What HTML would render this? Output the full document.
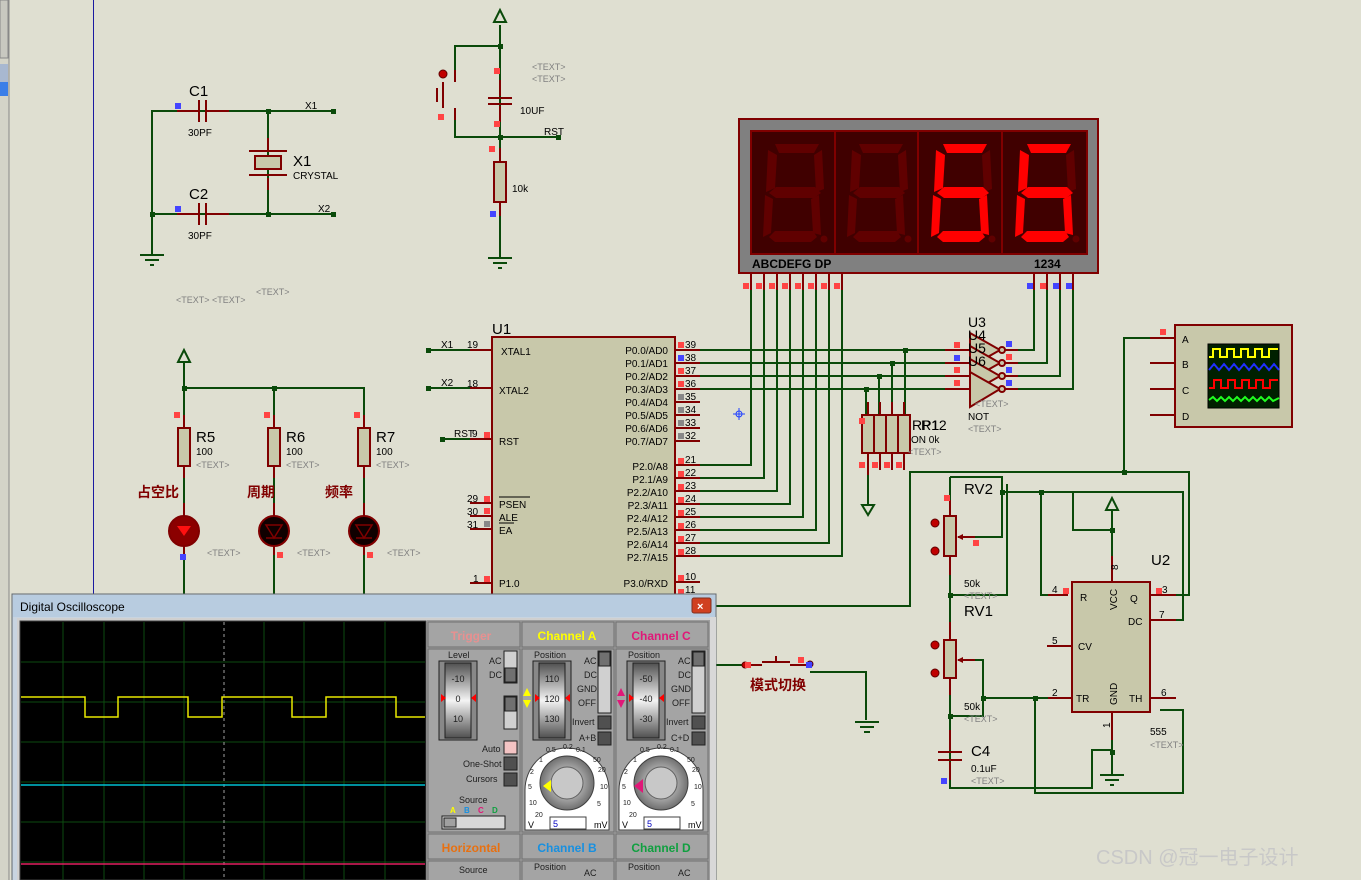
<!DOCTYPE html>
<html><head><meta charset="utf-8">
<style>
html,body{margin:0;padding:0;width:1361px;height:880px;overflow:hidden;background:#dfdfd1;}
svg text{font-family:"Liberation Sans","Noto Sans CJK SC",sans-serif;}
</style></head><body>
<svg width="1361" height="880" viewBox="0 0 1361 880" xmlns="http://www.w3.org/2000/svg">
<defs>
<g id="seg">
 <polygon points="22,14 68,14 63,22 27,22"/>
</g>
</defs>
<rect width="1361" height="880" fill="#dfdfd1"/>
<!-- left margin -->
<rect x="0" y="0" width="9" height="880" fill="#d4d4c8"/>
<line x1="9" y1="0" x2="9" y2="880" stroke="#888"/>
<rect x="0" y="0" width="8" height="58" fill="#c8c8c0" stroke="#888"/>
<rect x="0" y="64" width="8" height="30" fill="#a8b8d0"/>
<rect x="0" y="82" width="8" height="14" fill="#3a7ee8"/>
<line x1="93.5" y1="0" x2="93.5" y2="600" stroke="#1a1aa0" stroke-width="1"/>

<g fill="none" stroke="#0a4a0a" stroke-width="2">
 <!-- crystal circuit -->
 <polyline points="333,111 152,111 152,255"/>
 <line x1="152" y1="214" x2="333" y2="214"/>
 <line x1="268" y1="111" x2="268" y2="214"/>
 <!-- RST circuit -->
 <polyline points="500,25 500,46 455,46 455,70"/>
 <line x1="500" y1="46" x2="500" y2="258"/>
 <polyline points="455,120 455,137 560,137"/>
 <!-- LEDs -->
 <line x1="184" y1="362" x2="184" y2="600"/>
 <polyline points="184,388 364,388 364,600"/>
 <line x1="274" y1="388" x2="274" y2="600"/>
 <!-- U1 left -->
 <line x1="428" y1="350" x2="475" y2="350"/>
 <line x1="428" y1="388" x2="475" y2="388"/>
 <line x1="442" y1="439" x2="470" y2="439"/>
 <!-- display seg wires -->
 <polyline points="751,290 751,465 700,465"/>
 <polyline points="764,290 764,478 700,478"/>
 <polyline points="777,290 777,491 700,491"/>
 <polyline points="790,290 790,504 700,504"/>
 <polyline points="803,290 803,517 700,517"/>
 <polyline points="816,290 816,530 700,530"/>
 <polyline points="829,290 829,543 700,543"/>
 <polyline points="842,290 842,556 700,556"/>
 <!-- P0 lines -->
 <line x1="700" y1="350" x2="945" y2="350"/>
 <line x1="700" y1="363" x2="945" y2="363"/>
 <line x1="700" y1="376" x2="945" y2="376"/>
 <line x1="700" y1="389" x2="945" y2="389"/>
 <polyline points="905,350 905,415"/>
 <polyline points="892,363 892,415"/>
 <polyline points="879,376 879,415"/>
 <polyline points="866,389 866,415"/>
 <polyline points="868,475 868,505"/>
 <!-- digit lines -->
 <polyline points="1018,350 1034,350 1034,290"/>
 <polyline points="1018,363 1047,363 1047,290"/>
 <polyline points="1018,376 1060,376 1060,290"/>
 <polyline points="1018,389 1073,389 1073,290"/>
 <!-- scope device -->
 <polyline points="1150,338 1124,338 1124,472 910,472 910,606 700,606"/>
 <polyline points="1124,472 1189,472 1189,595 1160,595"/>
 <!-- 555 network -->
 <polyline points="950,510 950,477"/>
 <polyline points="950,477 1002,477 1002,537 960,537"/>
 <polyline points="1002,492 1183,492 1183,620 1160,620"/>
 <polyline points="1041,492 1041,595 1062,595"/>
 <polyline points="1041,492 1073,492 1073,530 1112,530 1112,510"/>
 <line x1="1112" y1="530" x2="1112" y2="560"/>
 <polyline points="950,555 950,760"/>
 <polyline points="950,595 1007,595 1007,484"/>
 <polyline points="960,660 983,660 983,698 1062,698"/>
 <polyline points="1035,698 1035,793 1183,793 1183,710 1160,710"/>
 <polyline points="950,716 983,716 983,698"/>
 <polyline points="950,760 950,788 1092,788 1092,750 1112,750"/>
 <line x1="1112" y1="730" x2="1112" y2="775"/>
 <!-- mode switch -->
 <polyline points="810,672 866,672 866,720"/>
 <line x1="716" y1="665" x2="745" y2="665"/>
</g>

<!-- grounds -->
<g stroke="#0a4a0a" stroke-width="2" fill="none">
 <line x1="140" y1="255" x2="164" y2="255"/><line x1="145" y1="260" x2="159" y2="260"/><line x1="150" y1="265" x2="154" y2="265"/>
 <line x1="488" y1="258" x2="512" y2="258"/><line x1="493" y1="263" x2="507" y2="263"/><line x1="498" y1="268" x2="502" y2="268"/>
 <line x1="855" y1="722" x2="879" y2="722"/><line x1="860" y1="727" x2="874" y2="727"/><line x1="864" y1="732" x2="870" y2="732"/>
 <line x1="1100" y1="775" x2="1124" y2="775"/><line x1="1105" y1="780" x2="1119" y2="780"/><line x1="1110" y1="785" x2="1114" y2="785"/>
 <polygon points="500,10 494,22 506,22"/>
 <polygon points="184,350 178,362 190,362"/>
 <polygon points="1112,498 1106,510 1118,510"/>
 <polygon points="868,515 862,505 874,505"/>
</g>
<!-- junction dots -->
<g fill="#0a4a0a">
 <rect x="266" y="109" width="5" height="5"/><rect x="266" y="212" width="5" height="5"/><rect x="150" y="212" width="5" height="5"/>
 <rect x="331" y="109" width="5" height="5"/><rect x="331" y="212" width="5" height="5"/>
 <rect x="498" y="44" width="5" height="5"/><rect x="498" y="135" width="5" height="5"/><rect x="556" y="135" width="5" height="5"/>
 <rect x="182" y="386" width="5" height="5"/><rect x="272" y="386" width="5" height="5"/>
 <rect x="426" y="348" width="5" height="5"/><rect x="426" y="386" width="5" height="5"/><rect x="440" y="437" width="5" height="5"/>
 <rect x="903" y="348" width="5" height="5"/><rect x="890" y="361" width="5" height="5"/><rect x="877" y="374" width="5" height="5"/><rect x="864" y="387" width="5" height="5"/>
 <rect x="1122" y="470" width="5" height="5"/><rect x="1000" y="490" width="5" height="5"/><rect x="1039" y="490" width="5" height="5"/>
 <rect x="1110" y="528" width="5" height="5"/><rect x="948" y="593" width="5" height="5"/><rect x="981" y="696" width="5" height="5"/>
 <rect x="1033" y="696" width="5" height="5"/><rect x="948" y="714" width="5" height="5"/><rect x="1110" y="750" width="5" height="5"/>
</g>

<!-- component red parts -->
<g stroke="#800000" stroke-width="2" fill="none">
 <line x1="177" y1="111" x2="198" y2="111"/><line x1="206" y1="111" x2="229" y2="111"/>
 <line x1="199" y1="100" x2="199" y2="122"/><line x1="206" y1="100" x2="206" y2="122"/>
 <line x1="177" y1="214" x2="198" y2="214"/><line x1="206" y1="214" x2="229" y2="214"/>
 <line x1="199" y1="203" x2="199" y2="225"/><line x1="206" y1="203" x2="206" y2="225"/>
 <line x1="268" y1="138" x2="268" y2="150"/><line x1="268" y1="178" x2="268" y2="190"/>
 <line x1="249" y1="151" x2="287" y2="151"/><line x1="249" y1="175" x2="287" y2="175"/>
 <!-- reset cap -->
 <line x1="488" y1="98" x2="512" y2="98"/><line x1="488" y1="104" x2="512" y2="104"/>
 <line x1="500" y1="80" x2="500" y2="96"/><line x1="500" y1="106" x2="500" y2="122"/>
 <line x1="500" y1="148" x2="500" y2="162"/><line x1="500" y1="202" x2="500" y2="216"/>
 <!-- button -->
 <line x1="455" y1="70" x2="455" y2="82"/><line x1="455" y1="108" x2="455" y2="120"/>
 <line x1="443" y1="82" x2="443" y2="108"/><line x1="437" y1="88" x2="437" y2="102"/>
 <!-- LED resistors wires -->
 <line x1="184" y1="415" x2="184" y2="428"/><line x1="184" y1="466" x2="184" y2="478"/>
 <line x1="274" y1="415" x2="274" y2="428"/><line x1="274" y1="466" x2="274" y2="478"/>
 <line x1="364" y1="415" x2="364" y2="428"/><line x1="364" y1="466" x2="364" y2="478"/>
 <line x1="184" y1="503" x2="184" y2="555"/><line x1="274" y1="503" x2="274" y2="555"/><line x1="364" y1="503" x2="364" y2="555"/>
 <!-- U1 pins -->
 <line x1="470" y1="350" x2="492" y2="350"/><line x1="470" y1="388" x2="492" y2="388"/><line x1="470" y1="439" x2="492" y2="439"/>
 <line x1="470" y1="503" x2="492" y2="503"/><line x1="470" y1="516" x2="492" y2="516"/><line x1="470" y1="529" x2="492" y2="529"/>
 <line x1="470" y1="583" x2="492" y2="583"/>
 <line x1="675" y1="350" x2="700" y2="350"/><line x1="675" y1="363" x2="700" y2="363"/><line x1="675" y1="376" x2="700" y2="376"/><line x1="675" y1="389" x2="700" y2="389"/>
 <line x1="675" y1="402" x2="700" y2="402"/><line x1="675" y1="415" x2="700" y2="415"/><line x1="675" y1="428" x2="700" y2="428"/><line x1="675" y1="441" x2="700" y2="441"/>
 <line x1="675" y1="465" x2="700" y2="465"/><line x1="675" y1="478" x2="700" y2="478"/><line x1="675" y1="491" x2="700" y2="491"/><line x1="675" y1="504" x2="700" y2="504"/>
 <line x1="675" y1="517" x2="700" y2="517"/><line x1="675" y1="530" x2="700" y2="530"/><line x1="675" y1="543" x2="700" y2="543"/><line x1="675" y1="556" x2="700" y2="556"/>
 <line x1="675" y1="582" x2="700" y2="582"/>
 <!-- display pins -->
 <line x1="751" y1="273" x2="751" y2="290"/><line x1="764" y1="273" x2="764" y2="290"/><line x1="777" y1="273" x2="777" y2="290"/><line x1="790" y1="273" x2="790" y2="290"/>
 <line x1="803" y1="273" x2="803" y2="290"/><line x1="816" y1="273" x2="816" y2="290"/><line x1="829" y1="273" x2="829" y2="290"/><line x1="842" y1="273" x2="842" y2="290"/>
 <line x1="1034" y1="273" x2="1034" y2="290"/><line x1="1047" y1="273" x2="1047" y2="290"/><line x1="1060" y1="273" x2="1060" y2="290"/><line x1="1073" y1="273" x2="1073" y2="290"/>
 <!-- inverters -->
 <line x1="945" y1="350" x2="970" y2="350"/><line x1="945" y1="363" x2="970" y2="363"/><line x1="945" y1="376" x2="970" y2="376"/><line x1="945" y1="389" x2="970" y2="389"/>
 <line x1="1004" y1="350" x2="1018" y2="350"/><line x1="1004" y1="363" x2="1018" y2="363"/><line x1="1004" y1="376" x2="1018" y2="376"/><line x1="1004" y1="389" x2="1018" y2="389"/>
 <!-- scope device pins -->
 <line x1="1150" y1="338" x2="1175" y2="338"/><line x1="1150" y1="363" x2="1175" y2="363"/><line x1="1150" y1="389" x2="1175" y2="389"/><line x1="1150" y1="415" x2="1175" y2="415"/>
 <!-- 555 pins -->
 <line x1="1112" y1="556" x2="1112" y2="582"/><line x1="1112" y1="712" x2="1112" y2="740"/>
 <line x1="1048" y1="595" x2="1068" y2="595"/><line x1="1047" y1="646" x2="1072" y2="646"/><line x1="1048" y1="698" x2="1072" y2="698"/>
 <line x1="1150" y1="595" x2="1176" y2="595"/><line x1="1150" y1="620" x2="1176" y2="620"/><line x1="1150" y1="698" x2="1176" y2="698"/>
 <!-- pots -->
 <line x1="950" y1="500" x2="950" y2="516"/><line x1="950" y1="556" x2="950" y2="575"/>
 <line x1="950" y1="622" x2="950" y2="640"/><line x1="950" y1="678" x2="950" y2="695"/>
 <line x1="958" y1="537" x2="975" y2="537"/><line x1="958" y1="660" x2="975" y2="660"/>
 <!-- C4 -->
 <line x1="938" y1="752" x2="962" y2="752"/><line x1="938" y1="760" x2="962" y2="760"/>
 <line x1="950" y1="730" x2="950" y2="750"/><line x1="950" y1="762" x2="950" y2="780"/>
 <!-- RP pins -->
 <line x1="868" y1="402" x2="868" y2="415"/><line x1="880" y1="402" x2="880" y2="415"/><line x1="892" y1="402" x2="892" y2="415"/><line x1="904" y1="402" x2="904" y2="415"/>
 <line x1="868" y1="453" x2="868" y2="475"/><line x1="880" y1="453" x2="880" y2="470"/><line x1="892" y1="453" x2="892" y2="470"/><line x1="904" y1="453" x2="904" y2="470"/>
 <!-- switch -->
 <line x1="745" y1="665" x2="762" y2="665"/><line x1="790" y1="665" x2="810" y2="665"/>
 <line x1="762" y1="662" x2="790" y2="662"/><line x1="776" y1="656" x2="776" y2="662"/>
</g>
<!-- bodies -->
<g stroke="#800000" stroke-width="2" fill="#c8c8aa">
 <rect x="255" y="156" width="26" height="13"/>
 <rect x="494" y="162" width="12" height="40"/>
 <rect x="178" y="428" width="12" height="38"/>
 <rect x="268" y="428" width="12" height="38"/>
 <rect x="358" y="428" width="12" height="38"/>
 <rect x="492" y="337" width="183" height="270"/>
 <rect x="862" y="415" width="48" height="38"/>
 <rect x="944" y="516" width="12" height="40"/>
 <rect x="944" y="640" width="12" height="38"/>
 <rect x="1072" y="582" width="78" height="130"/>
 <rect x="1175" y="325" width="117" height="102"/>
</g>
<g stroke="#800000" stroke-width="2"><line x1="874" y1="415" x2="874" y2="453"/><line x1="886" y1="415" x2="886" y2="453"/><line x1="898" y1="415" x2="898" y2="453"/></g>
<!-- inverters -->
<g stroke="#800000" stroke-width="2" fill="#c8c8aa">
 <polygon points="970,333 1000,350 970,367"/>
 <polygon points="970,346 1000,363 970,380"/>
 <polygon points="970,359 1000,376 970,393"/>
 <polygon points="970,372 1000,389 970,407"/>
 <circle cx="1002" cy="350" r="3"/><circle cx="1002" cy="363" r="3"/><circle cx="1002" cy="376" r="3"/><circle cx="1002" cy="389" r="3"/>
</g>
<!-- LEDs -->
<circle cx="184" cy="531" r="15" fill="#8b0000" stroke="#800000" stroke-width="2"/>
<polygon points="177,526 191,526 184,536" fill="#ff1010"/>
<g stroke="#800000" stroke-width="2">
<circle cx="274" cy="531" r="15" fill="#100000"/>
<circle cx="364" cy="531" r="15" fill="#100000"/>
</g>
<g stroke="#800000" stroke-width="1.5" fill="none">
<polygon points="266,525 282,525 274,538"/><line x1="266" y1="538" x2="282" y2="538"/>
<polygon points="356,525 372,525 364,538"/><line x1="356" y1="538" x2="372" y2="538"/>
</g>

<!-- pot wipers/dots -->
<g fill="#c00000" stroke="#600000">
 <circle cx="935" cy="523" r="4"/><circle cx="935" cy="551" r="4"/>
 <circle cx="935" cy="645" r="4"/><circle cx="935" cy="673" r="4"/>
 <circle cx="443" cy="74" r="4"/><circle cx="810" cy="664" r="3" fill="#2020ff"/>
 <circle cx="745" cy="665" r="3"/>
</g>
<polygon points="957,537 963,534 963,540" fill="#800000"/>
<polygon points="957,660 963,657 963,663" fill="#800000"/>

<!-- 7 seg display -->
<rect x="739" y="119" width="359" height="154" fill="#808080" stroke="#800000" stroke-width="2"/>
<rect x="751" y="131" width="336" height="123" fill="#400000" stroke="#800000" stroke-width="2"/>
<g stroke="#800000" stroke-width="2"><line x1="835" y1="131" x2="835" y2="254"/><line x1="918" y1="131" x2="918" y2="254"/><line x1="1002" y1="131" x2="1002" y2="254"/></g>
<g id="d1" fill="#600000" transform="translate(751,131)">
 <polygon points="24,13 68,13 63,22 28,22"/>
 <polygon points="17,19 26,24 24,57 15,61"/>
 <polygon points="71,19 73,58 65,61 63,24"/>
 <polygon points="18,62 25,56 64,56 70,62 63,67 25,67"/>
 <polygon points="14,64 22,68 20,102 12,106"/>
 <polygon points="68,64 70,104 62,102 60,68"/>
 <polygon points="18,106 24,100 62,100 66,106 60,111 24,111"/>
 <circle cx="73" cy="108" r="3.5"/>
</g>
<use href="#d1" transform="translate(84,0)"/>
<g fill="#ff0000" transform="translate(919,131)">
 <polygon points="24,13 68,13 63,22 28,22"/>
 <polygon points="17,19 26,24 24,57 15,61"/>
 <polygon points="71,19 73,58 65,61 63,24" fill="#600000"/>
 <polygon points="18,62 25,56 64,56 70,62 63,67 25,67"/>
 <polygon points="14,64 22,68 20,102 12,106"/>
 <polygon points="68,64 70,104 62,102 60,68"/>
 <polygon points="18,106 24,100 62,100 66,106 60,111 24,111"/>
 <circle cx="73" cy="108" r="3.5" fill="#600000"/>
</g>
<g fill="#ff0000" transform="translate(1003,131)">
 <polygon points="24,13 68,13 63,22 28,22"/>
 <polygon points="17,19 26,24 24,57 15,61"/>
 <polygon points="71,19 73,58 65,61 63,24" fill="#600000"/>
 <polygon points="18,62 25,56 64,56 70,62 63,67 25,67"/>
 <polygon points="14,64 22,68 20,102 12,106"/>
 <polygon points="68,64 70,104 62,102 60,68"/>
 <polygon points="18,106 24,100 62,100 66,106 60,111 24,111"/>
 <circle cx="73" cy="108" r="3.5" fill="#600000"/>
</g>
<text x="752" y="268" font-size="12" font-weight="bold" fill="#000" font-family="Liberation Mono,monospace">ABCDEFG DP</text>
<text x="1034" y="268" font-size="12" font-weight="bold" fill="#000">1234</text>

<!-- scope device screen -->
<rect x="1208" y="344" width="71" height="64" fill="#002000" stroke="#000"/>
<g fill="none" stroke-width="2">
<polyline stroke="#ffff00" points="1209,357 1213,357 1213,349 1220,349 1220,357 1227,357 1227,349 1234,349 1234,357 1241,357 1241,349 1248,349 1248,357 1255,357 1255,349 1262,349 1262,357 1269,357 1269,349 1278,349" />
<polyline stroke="#2030ff" points="1209,370 1214,364 1219,370 1224,364 1229,370 1234,364 1239,370 1244,364 1249,370 1254,364 1259,370 1264,364 1269,370 1274,364 1279,370"/>
<polyline stroke="#ff0000" points="1209,388 1214,388 1214,380 1221,380 1221,388 1228,388 1228,380 1235,380 1235,388 1242,388 1242,380 1249,380 1249,388 1256,388 1256,380 1263,380 1263,388 1270,388 1270,380 1278,380"/>
<polyline stroke="#20ff20" points="1209,400 1213,397 1217,401 1221,397 1225,401 1229,397 1233,401 1237,397 1241,401 1245,397 1249,401 1253,397 1257,401 1261,397 1265,401 1269,397 1273,401 1279,398"/>
</g>

<!-- pin marker squares -->
<g fill="#ff4444">
 <rect x="494" y="68" width="6" height="6"/><rect x="494" y="121" width="6" height="6"/><rect x="489" y="146" width="6" height="6"/>
 <rect x="438" y="114" width="6" height="6"/>
 <rect x="174" y="412" width="6" height="6"/><rect x="264" y="412" width="6" height="6"/><rect x="354" y="412" width="6" height="6"/>
 <rect x="277" y="552" width="6" height="6"/><rect x="367" y="552" width="6" height="6"/>
 <rect x="484" y="432" width="6" height="6"/><rect x="484" y="496" width="6" height="6"/><rect x="484" y="508" width="6" height="6"/><rect x="484" y="576" width="6" height="6"/>
 <rect x="743" y="283" width="6" height="6"/><rect x="756" y="283" width="6" height="6"/><rect x="769" y="283" width="6" height="6"/><rect x="782" y="283" width="6" height="6"/>
 <rect x="795" y="283" width="6" height="6"/><rect x="808" y="283" width="6" height="6"/><rect x="821" y="283" width="6" height="6"/><rect x="834" y="283" width="6" height="6"/>
 <rect x="1040" y="283" width="6" height="6"/>
 <rect x="678" y="342" width="6" height="6"/><rect x="678" y="368" width="6" height="6"/><rect x="678" y="381" width="6" height="6"/>
 <rect x="678" y="458" width="6" height="6"/><rect x="678" y="471" width="6" height="6"/><rect x="678" y="484" width="6" height="6"/><rect x="678" y="497" width="6" height="6"/>
 <rect x="678" y="510" width="6" height="6"/><rect x="678" y="523" width="6" height="6"/><rect x="678" y="536" width="6" height="6"/><rect x="678" y="549" width="6" height="6"/>
 <rect x="678" y="575" width="6" height="6"/><rect x="678" y="589" width="6" height="6"/>
 <rect x="954" y="342" width="6" height="6"/><rect x="954" y="367" width="6" height="6"/><rect x="954" y="380" width="6" height="6"/>
 <rect x="1006" y="354" width="6" height="6"/>
 <rect x="1160" y="329" width="6" height="6"/><rect x="944" y="495" width="6" height="6"/><rect x="973" y="540" width="6" height="6"/>
 <rect x="1063" y="588" width="6" height="6"/><rect x="1156" y="588" width="6" height="6"/>
 <rect x="859" y="418" width="6" height="6"/><rect x="859" y="462" width="6" height="6"/><rect x="872" y="462" width="6" height="6"/><rect x="884" y="462" width="6" height="6"/><rect x="896" y="462" width="6" height="6"/>
 <rect x="745" y="662" width="6" height="6"/><rect x="798" y="657" width="6" height="6"/>
</g>
<g fill="#4444ff">
 <rect x="175" y="103" width="6" height="6"/><rect x="175" y="206" width="6" height="6"/><rect x="490" y="211" width="6" height="6"/>
 <rect x="180" y="554" width="6" height="6"/><rect x="678" y="355" width="6" height="6"/>
 <rect x="1027" y="283" width="6" height="6"/><rect x="1053" y="283" width="6" height="6"/><rect x="1066" y="283" width="6" height="6"/>
 <rect x="954" y="355" width="6" height="6"/><rect x="1006" y="341" width="6" height="6"/><rect x="1006" y="367" width="6" height="6"/><rect x="1006" y="380" width="6" height="6"/>
 <rect x="941" y="778" width="6" height="6"/><rect x="806" y="662" width="6" height="6"/>
</g>
<g fill="#888"><rect x="678" y="394" width="6" height="6"/><rect x="678" y="407" width="6" height="6"/><rect x="678" y="420" width="6" height="6"/><rect x="678" y="433" width="6" height="6"/><rect x="484" y="521" width="6" height="6"/></g>

<!-- labels -->
<g fill="#000" font-size="15">
 <text x="189" y="96">C1</text><text x="189" y="199">C2</text><text x="293" y="166">X1</text>
 <text x="492" y="334">U1</text><text x="196" y="442">R5</text><text x="286" y="442">R6</text><text x="376" y="442">R7</text>
 <text x="964" y="494">RV2</text><text x="964" y="616">RV1</text><text x="971" y="756">C4</text><text x="1151" y="565">U2</text>
 <text x="968" y="327" font-size="14">U3</text><text x="968" y="340" font-size="14">U4</text><text x="968" y="353" font-size="14">U5</text><text x="968" y="366" font-size="14">U6</text>
 <text x="912" y="430" font-size="14">RP1</text><text x="921" y="430" font-size="14">R12</text>
</g>
<g fill="#000" font-size="10">
 <text x="188" y="136">30PF</text><text x="188" y="239">30PF</text><text x="293" y="179">CRYSTAL</text>
 <text x="305" y="109">X1</text><text x="318" y="212">X2</text>
 <text x="520" y="114">10UF</text><text x="544" y="135">RST</text><text x="512" y="192">10k</text>
 <text x="196" y="455">100</text><text x="286" y="455">100</text><text x="376" y="455">100</text>
 <text x="441" y="348">X1</text><text x="441" y="386">X2</text><text x="454" y="437">RST</text>
 <text x="467" y="348">19</text><text x="467" y="387">18</text><text x="472" y="437">9</text>
 <text x="467" y="502">29</text><text x="467" y="515">30</text><text x="467" y="528">31</text><text x="473" y="582">1</text>
 <text x="501" y="355">XTAL1</text><text x="499" y="394">XTAL2</text><text x="499" y="445">RST</text>
 <text x="499" y="508">PSEN</text><text x="499" y="521">ALE</text><text x="499" y="534">EA</text><text x="499" y="587">P1.0</text>
 <text x="964" y="587">50k</text><text x="964" y="710">50k</text><text x="971" y="772">0.1uF</text><text x="1150" y="735">555</text>
 <text x="1080" y="601">R</text><text x="1078" y="650">CV</text><text x="1076" y="702">TR</text><text x="1130" y="602">Q</text><text x="1128" y="625">DC</text><text x="1129" y="702">TH</text>
 <text x="1052" y="593">4</text><text x="1052" y="644">5</text><text x="1052" y="696">2</text><text x="1162" y="593">3</text><text x="1159" y="618">7</text><text x="1161" y="696">6</text>
 <text x="1182" y="343">A</text><text x="1182" y="368">B</text><text x="1182" y="394">C</text><text x="1182" y="420">D</text>
 <text x="968" y="420">NOT</text><text x="911" y="443">ON 0k</text>
</g>
<line x1="499" y1="497" x2="530" y2="497" stroke="#000"/>
<line x1="499" y1="523" x2="514" y2="523" stroke="#000"/>
<g fill="#000" font-size="10" text-anchor="end">
 <text x="668" y="354">P0.0/AD0</text><text x="668" y="367">P0.1/AD1</text><text x="668" y="380">P0.2/AD2</text><text x="668" y="393">P0.3/AD3</text>
 <text x="668" y="406">P0.4/AD4</text><text x="668" y="419">P0.5/AD5</text><text x="668" y="432">P0.6/AD6</text><text x="668" y="445">P0.7/AD7</text>
 <text x="668" y="470">P2.0/A8</text><text x="668" y="483">P2.1/A9</text><text x="668" y="496">P2.2/A10</text><text x="668" y="509">P2.3/A11</text>
 <text x="668" y="522">P2.4/A12</text><text x="668" y="535">P2.5/A13</text><text x="668" y="548">P2.6/A14</text><text x="668" y="561">P2.7/A15</text>
 <text x="668" y="587">P3.0/RXD</text>
</g>
<g fill="#000" font-size="10">
 <text x="685" y="348">39</text><text x="685" y="361">38</text><text x="685" y="374">37</text><text x="685" y="387">36</text>
 <text x="685" y="400">35</text><text x="685" y="413">34</text><text x="685" y="426">33</text><text x="685" y="439">32</text>
 <text x="685" y="463">21</text><text x="685" y="476">22</text><text x="685" y="489">23</text><text x="685" y="502">24</text>
 <text x="685" y="515">25</text><text x="685" y="528">26</text><text x="685" y="541">27</text><text x="685" y="554">28</text>
 <text x="685" y="580">10</text><text x="685" y="593">11</text>
</g>
<g fill="#808080" font-size="9">
 <text x="532" y="70">&lt;TEXT&gt;</text><text x="532" y="82">&lt;TEXT&gt;</text>
 <text x="176" y="303">&lt;TEXT&gt; &lt;TEXT&gt;</text><text x="256" y="295">&lt;TEXT&gt;</text>
 <text x="196" y="468">&lt;TEXT&gt;</text><text x="286" y="468">&lt;TEXT&gt;</text><text x="376" y="468">&lt;TEXT&gt;</text>
 <text x="207" y="556">&lt;TEXT&gt;</text><text x="297" y="556">&lt;TEXT&gt;</text><text x="387" y="556">&lt;TEXT&gt;</text>
 <text x="968" y="432">&lt;TEXT&gt;</text><text x="975" y="407">&lt;TEXT&gt;</text><text x="908" y="455">&lt;TEXT&gt;</text>
 <text x="964" y="599">&lt;TEXT&gt;</text><text x="964" y="722">&lt;TEXT&gt;</text><text x="971" y="784">&lt;TEXT&gt;</text><text x="1150" y="748">&lt;TEXT&gt;</text>
</g>
<g fill="#800000" font-size="14" font-weight="bold">
 <text x="137" y="497">占空比</text><text x="247" y="497">周期</text><text x="325" y="497">频率</text><text x="750" y="690">模式切换</text>
</g>
<g fill="#000" font-size="10">
 <text x="1118" y="570" transform="rotate(-90 1118 570)">8</text>
 <text x="1117" y="610" transform="rotate(-90 1117 610)">VCC</text>
 <text x="1117" y="705" transform="rotate(-90 1117 705)">GND</text>
 <text x="1110" y="728" transform="rotate(-90 1110 728)">1</text>
</g>
<!-- cursor crosshair -->
<g stroke="#2040ff"><line x1="733" y1="414" x2="745" y2="414"/><line x1="739" y1="408" x2="739" y2="420"/><circle cx="739" cy="414" r="3" fill="none"/></g>
<text x="1096" y="864" font-size="20" fill="#c8c8c8">CSDN @冠一电子设计</text>

<!-- Oscilloscope window -->
<rect x="12" y="594" width="704" height="290" fill="#c8d4e0" stroke="#606870"/>
<rect x="13" y="595" width="702" height="22" fill="#b8cce0"/>
<text x="20" y="611" font-size="12" fill="#000">Digital Oscilloscope</text>
<rect x="692" y="598" width="19" height="15" rx="2" fill="#d04020" stroke="#803020"/>
<text x="697" y="610" font-size="11" fill="#fff" font-weight="bold">×</text>
<rect x="17" y="618" width="693" height="262" fill="#d0d0d0"/>
<rect x="20" y="621" width="406" height="259" fill="#000" stroke="#404040"/>
<g stroke="#0c4a10" stroke-width="1">
 <line x1="63" y1="622" x2="63" y2="880"/><line x1="104" y1="622" x2="104" y2="880"/><line x1="144" y1="622" x2="144" y2="880"/><line x1="184" y1="622" x2="184" y2="880"/>
 <line x1="264" y1="622" x2="264" y2="880"/><line x1="304" y1="622" x2="304" y2="880"/><line x1="344" y1="622" x2="344" y2="880"/><line x1="385" y1="622" x2="385" y2="880"/>
 <line x1="21" y1="662" x2="425" y2="662"/><line x1="21" y1="702" x2="425" y2="702"/><line x1="21" y1="742" x2="425" y2="742"/><line x1="21" y1="782" x2="425" y2="782"/><line x1="21" y1="822" x2="425" y2="822"/><line x1="21" y1="862" x2="425" y2="862"/>
</g>
<line x1="224" y1="622" x2="224" y2="880" stroke="#a0a0a0" stroke-dasharray="3,3"/>
<polyline fill="none" stroke="#e8e800" stroke-width="1.5" points="21,697 85,697 85,717 118,717 118,697 188,697 188,717 222,717 222,697 292,697 292,717 326,717 326,697 396,697 396,717 425,717"/>
<line x1="21" y1="785" x2="425" y2="785" stroke="#00c0d0" stroke-width="1.5"/>
<line x1="21" y1="864" x2="425" y2="864" stroke="#e02060" stroke-width="1.5"/>

<!-- control panel -->
<rect x="427" y="620" width="283" height="260" fill="#9c9c9c"/>
<g fill="#a4a4a4" stroke="#707070">
 <rect x="428" y="622" width="92" height="25"/><rect x="522" y="622" width="92" height="25"/><rect x="616" y="622" width="92" height="25"/>
 <rect x="428" y="649" width="92" height="183"/><rect x="522" y="649" width="92" height="183"/><rect x="616" y="649" width="92" height="183"/>
 <rect x="428" y="834" width="92" height="25"/><rect x="522" y="834" width="92" height="25"/><rect x="616" y="834" width="92" height="25"/>
 <rect x="428" y="861" width="92" height="20"/><rect x="522" y="861" width="92" height="20"/><rect x="616" y="861" width="92" height="20"/>
</g>
<g font-size="12" font-weight="bold" text-anchor="middle">
 <text x="471" y="640" fill="#e89090">Trigger</text><text x="567" y="640" fill="#ffff00">Channel A</text><text x="661" y="640" fill="#e01878">Channel C</text>
 <text x="471" y="852" fill="#e87010">Horizontal</text><text x="567" y="852" fill="#1890e0">Channel B</text><text x="661" y="852" fill="#10a040">Channel D</text>
</g>
<g font-size="9" fill="#202020">
 <text x="448" y="658">Level</text><text x="534" y="658">Position</text><text x="628" y="658">Position</text>
 <text x="489" y="664">AC</text><text x="489" y="678">DC</text>
 <text x="584" y="664">AC</text><text x="584" y="678">DC</text><text x="577" y="692">GND</text><text x="578" y="706">OFF</text><text x="572" y="725">Invert</text><text x="579" y="741">A+B</text>
 <text x="678" y="664">AC</text><text x="678" y="678">DC</text><text x="671" y="692">GND</text><text x="672" y="706">OFF</text><text x="666" y="725">Invert</text><text x="671" y="741">C+D</text>
 <text x="482" y="752">Auto</text><text x="463" y="767">One-Shot</text><text x="466" y="782">Cursors</text>
 <text x="459" y="803">Source</text><text x="534" y="870">Position</text><text x="628" y="870">Position</text><text x="459" y="873">Source</text>
 <text x="584" y="876">AC</text><text x="678" y="876">AC</text>
</g>
<!-- knob drums -->
<defs><linearGradient id="drum" x1="0" x2="1"><stop offset="0" stop-color="#606060"/><stop offset="0.5" stop-color="#f0f0f0"/><stop offset="1" stop-color="#606060"/></linearGradient>
<linearGradient id="drumv" x1="0" y1="0" x2="0" y2="1"><stop offset="0" stop-color="#505050"/><stop offset="0.5" stop-color="#f4f4f4"/><stop offset="1" stop-color="#505050"/></linearGradient>
<radialGradient id="knob"><stop offset="0" stop-color="#f0f0f0"/><stop offset="1" stop-color="#707070"/></radialGradient></defs>
<g stroke="#202020">
 <rect x="439" y="661" width="38" height="79" fill="#888"/><rect x="445" y="663" width="26" height="75" fill="url(#drumv)"/>
 <rect x="533" y="661" width="38" height="79" fill="#888"/><rect x="539" y="663" width="26" height="75" fill="url(#drumv)"/>
 <rect x="627" y="661" width="38" height="79" fill="#888"/><rect x="633" y="663" width="26" height="75" fill="url(#drumv)"/>
</g>
<g font-size="9" fill="#202020" text-anchor="middle">
 <text x="458" y="682">-10</text><text x="458" y="702">0</text><text x="458" y="722">10</text>
 <text x="552" y="682">110</text><text x="552" y="702">120</text><text x="552" y="722">130</text>
 <text x="646" y="682">-50</text><text x="646" y="702">-40</text><text x="646" y="722">-30</text>
</g>
<g fill="#ff0000"><polygon points="441,694 446,698 441,702"/><polygon points="476,694 471,698 476,702"/><polygon points="535,694 540,698 535,702"/><polygon points="570,694 565,698 570,702"/><polygon points="629,694 634,698 629,702"/><polygon points="664,694 659,698 664,702"/></g>
<polygon points="527,688 531,696 523,696" fill="#ffff00"/><polygon points="527,708 531,700 523,700" fill="#ffff00"/>
<polygon points="621,688 625,696 617,696" fill="#e01878"/><polygon points="621,708 625,700 617,700" fill="#e01878"/>
<g fill="#707070" stroke="#202020">
 <rect x="504" y="651" width="13" height="32" fill="#d0d0d0"/><rect x="505" y="668" width="11" height="14"/>
 <rect x="504" y="696" width="13" height="33" fill="#d0d0d0"/><rect x="505" y="697" width="11" height="14"/>
 <rect x="598" y="651" width="13" height="62" fill="#d0d0d0"/><rect x="599" y="652" width="11" height="14"/>
 <rect x="692" y="651" width="13" height="62" fill="#d0d0d0"/><rect x="693" y="652" width="11" height="14"/>
 <rect x="598" y="716" width="13" height="13" fill="#505050"/><rect x="598" y="732" width="13" height="13" fill="#505050"/>
 <rect x="692" y="716" width="13" height="13" fill="#505050"/><rect x="692" y="732" width="13" height="13" fill="#505050"/>
 <rect x="504" y="741" width="13" height="13" fill="#f4c4c4"/><rect x="504" y="757" width="13" height="13" fill="#505050"/><rect x="504" y="773" width="13" height="13" fill="#505050"/>
 <rect x="442" y="816" width="63" height="13" fill="#d8d8d8"/><rect x="444" y="818" width="12" height="9" fill="#a0a0a0"/>
</g>
<g font-size="8" font-weight="bold"><text x="450" y="813" fill="#ffff00">A</text><text x="464" y="813" fill="#1890e0">B</text><text x="478" y="813" fill="#e01878">C</text><text x="492" y="813" fill="#10a040">D</text></g>
<!-- dials -->
<g>
 <path d="M525,830 L525,790 A42,42 0 0 1 609,790 L609,830 Z" fill="#fff" stroke="#404040"/>
 <circle cx="567" cy="783" r="27" fill="url(#knob)" stroke="#404040"/>
 <circle cx="567" cy="783" r="16" fill="#c8c8c8" stroke="#606060"/>
 <polygon points="543,786 551,780 551,792" fill="#ffff00"/>
 <rect x="550" y="817" width="36" height="12" fill="#fff" stroke="#404040"/><text x="553" y="827" font-size="9" fill="#0000c0">5</text>
 <text x="528" y="828" font-size="9">V</text><text x="594" y="828" font-size="9">mV</text>
 <path d="M619,830 L619,790 A42,42 0 0 1 703,790 L703,830 Z" fill="#fff" stroke="#404040"/>
 <circle cx="661" cy="783" r="27" fill="url(#knob)" stroke="#404040"/>
 <circle cx="661" cy="783" r="16" fill="#c8c8c8" stroke="#606060"/>
 <polygon points="634,786 643,779 643,793" fill="#e01878"/>
 <rect x="644" y="817" width="36" height="12" fill="#fff" stroke="#404040"/><text x="647" y="827" font-size="9" fill="#0000c0">5</text>
 <text x="622" y="828" font-size="9">V</text><text x="688" y="828" font-size="9">mV</text>
</g>
<g font-size="7" fill="#202020">
 <text x="546" y="752">0.5</text><text x="563" y="749">0.2</text><text x="576" y="752">0.1</text><text x="593" y="762">50</text><text x="598" y="772">20</text><text x="600" y="789">10</text><text x="597" y="806">5</text>
 <text x="539" y="762">1</text><text x="530" y="774">2</text><text x="528" y="789">5</text><text x="529" y="805">10</text><text x="535" y="817">20</text>
 <text x="640" y="752">0.5</text><text x="657" y="749">0.2</text><text x="670" y="752">0.1</text><text x="687" y="762">50</text><text x="692" y="772">20</text><text x="694" y="789">10</text><text x="691" y="806">5</text>
 <text x="633" y="762">1</text><text x="624" y="774">2</text><text x="622" y="789">5</text><text x="623" y="805">10</text><text x="629" y="817">20</text>
</g>
<rect x="710" y="617" width="6" height="263" fill="#d8d8d8"/>
</svg>
</body></html>
